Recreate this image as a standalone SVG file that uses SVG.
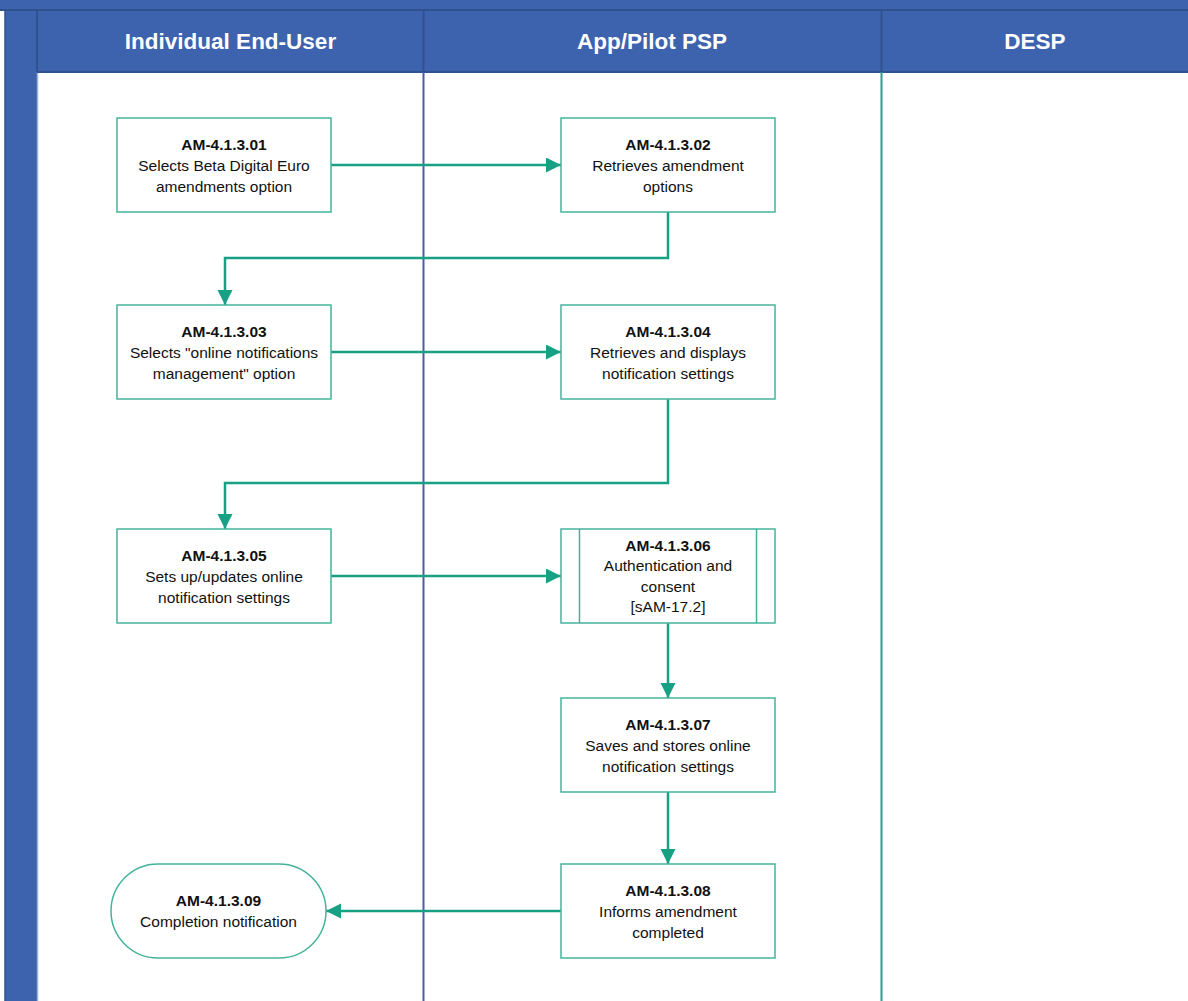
<svg xmlns="http://www.w3.org/2000/svg" width="1188" height="1001" viewBox="0 0 1188 1001">
  <style>
    .band { fill: #3D63AE; }
    .hdr-line { stroke: #2F528F; stroke-width: 2; fill: none; }
    .lane-title { font-family: "Liberation Sans", Arial, sans-serif; font-weight: bold; font-size: 22.5px; fill: #ffffff; text-anchor: middle; }
    .box { fill: #ffffff; stroke: #45B39C; stroke-width: 1.5; }
    .t { font-family: "Liberation Sans", Arial, sans-serif; font-size: 15.5px; fill: #111111; text-anchor: middle; }
    .id { font-weight: bold; }
    .conn { fill: none; stroke: #17A084; stroke-width: 2.5; }
  </style>
  <defs>
    <marker id="arrow" markerUnits="userSpaceOnUse" markerWidth="16" markerHeight="16" refX="15" refY="7.5" orient="auto">
      <path d="M0,0 L15,7.5 L0,15 z" fill="#17A084"/>
    </marker>
  </defs>

  <!-- page -->
  <rect x="0" y="0" width="1188" height="1001" fill="#ffffff"/>

  <!-- pool frame: top strip, left bar, lane header row -->
  <g id="pool">
    <rect class="band" x="0" y="0" width="1188" height="10"/>
    <rect class="band" x="5" y="10" width="32" height="991"/>
    <line x1="5" y1="10" x2="5" y2="1001" stroke="#2F528F" stroke-width="1.5"/>
    <line x1="37.5" y1="72" x2="37.5" y2="1001" stroke="#9FB0D8" stroke-width="1.5"/>
    <rect class="band" x="37" y="10" width="1151" height="62"/>
    <line class="hdr-line" x1="0" y1="10" x2="1188" y2="10"/>
    <line class="hdr-line" x1="37" y1="72" x2="1188" y2="72"/>
    <line class="hdr-line" x1="37" y1="10" x2="37" y2="72"/>
    <line class="hdr-line" x1="423.5" y1="10" x2="423.5" y2="72"/>
    <line class="hdr-line" x1="881.5" y1="10" x2="881.5" y2="72"/>
  </g>

  <!-- lanes -->
  <g id="lane-end-user">
    <text class="lane-title" x="230.5" y="49">Individual End-User</text>
  </g>
  <g id="lane-psp">
    <line x1="423.5" y1="72" x2="423.5" y2="1001" stroke="#4A5FA8" stroke-width="2"/>
    <text class="lane-title" x="652" y="49">App/Pilot PSP</text>
  </g>
  <g id="lane-desp">
    <line x1="881.5" y1="72" x2="881.5" y2="1001" stroke="#2A9D8F" stroke-width="2"/>
    <text class="lane-title" x="1035" y="49">DESP</text>
  </g>

  <!-- connectors -->
  <g id="connectors">
    <path class="conn" d="M331,165 L561,165" marker-end="url(#arrow)"/>
    <path class="conn" d="M668,212 L668,258 L225,258 L225,305" marker-end="url(#arrow)"/>
    <path class="conn" d="M331,352 L561,352" marker-end="url(#arrow)"/>
    <path class="conn" d="M668,399 L668,483 L225,483 L225,529" marker-end="url(#arrow)"/>
    <path class="conn" d="M331,576 L561,576" marker-end="url(#arrow)"/>
    <path class="conn" d="M668,623 L668,698" marker-end="url(#arrow)"/>
    <path class="conn" d="M668,792 L668,864" marker-end="url(#arrow)"/>
    <path class="conn" d="M561,911 L326,911" marker-end="url(#arrow)"/>
  </g>

  <!-- process steps -->
  <g id="AM-4.1.3.01">
    <rect class="box" x="117" y="118" width="214" height="94"/>
    <text class="t id" x="224" y="150">AM-4.1.3.01</text>
    <text class="t" x="224" y="171">Selects Beta Digital Euro</text>
    <text class="t" x="224" y="191.5">amendments option</text>
  </g>
  <g id="AM-4.1.3.02">
    <rect class="box" x="561" y="118" width="214" height="94"/>
    <text class="t id" x="668" y="150">AM-4.1.3.02</text>
    <text class="t" x="668" y="171">Retrieves amendment</text>
    <text class="t" x="668" y="191.5">options</text>
  </g>
  <g id="AM-4.1.3.03">
    <rect class="box" x="117" y="305" width="214" height="94"/>
    <text class="t id" x="224" y="337">AM-4.1.3.03</text>
    <text class="t" x="224" y="358">Selects "online notifications</text>
    <text class="t" x="224" y="378.5">management" option</text>
  </g>
  <g id="AM-4.1.3.04">
    <rect class="box" x="561" y="305" width="214" height="94"/>
    <text class="t id" x="668" y="337">AM-4.1.3.04</text>
    <text class="t" x="668" y="358">Retrieves and displays</text>
    <text class="t" x="668" y="378.5">notification settings</text>
  </g>
  <g id="AM-4.1.3.05">
    <rect class="box" x="117" y="529" width="214" height="94"/>
    <text class="t id" x="224" y="561">AM-4.1.3.05</text>
    <text class="t" x="224" y="582">Sets up/updates online</text>
    <text class="t" x="224" y="602.5">notification settings</text>
  </g>
  <g id="AM-4.1.3.06">
    <rect class="box" x="561" y="529" width="214" height="94"/>
    <line x1="579.5" y1="529" x2="579.5" y2="623" stroke="#45B39C" stroke-width="1.5"/>
    <line x1="756.5" y1="529" x2="756.5" y2="623" stroke="#45B39C" stroke-width="1.5"/>
    <text class="t id" x="668" y="550.5">AM-4.1.3.06</text>
    <text class="t" x="668" y="571">Authentication and</text>
    <text class="t" x="668" y="591.5">consent</text>
    <text class="t" x="668" y="612">[sAM-17.2]</text>
  </g>
  <g id="AM-4.1.3.07">
    <rect class="box" x="561" y="698" width="214" height="94"/>
    <text class="t id" x="668" y="730">AM-4.1.3.07</text>
    <text class="t" x="668" y="751">Saves and stores online</text>
    <text class="t" x="668" y="771.5">notification settings</text>
  </g>
  <g id="AM-4.1.3.08">
    <rect class="box" x="561" y="864" width="214" height="94"/>
    <text class="t id" x="668" y="896">AM-4.1.3.08</text>
    <text class="t" x="668" y="917">Informs amendment</text>
    <text class="t" x="668" y="937.5">completed</text>
  </g>
  <g id="AM-4.1.3.09">
    <rect class="box" x="111" y="864" width="215" height="94" rx="47" ry="47"/>
    <text class="t id" x="218.5" y="906">AM-4.1.3.09</text>
    <text class="t" x="218.5" y="926.5">Completion notification</text>
  </g>
</svg>
